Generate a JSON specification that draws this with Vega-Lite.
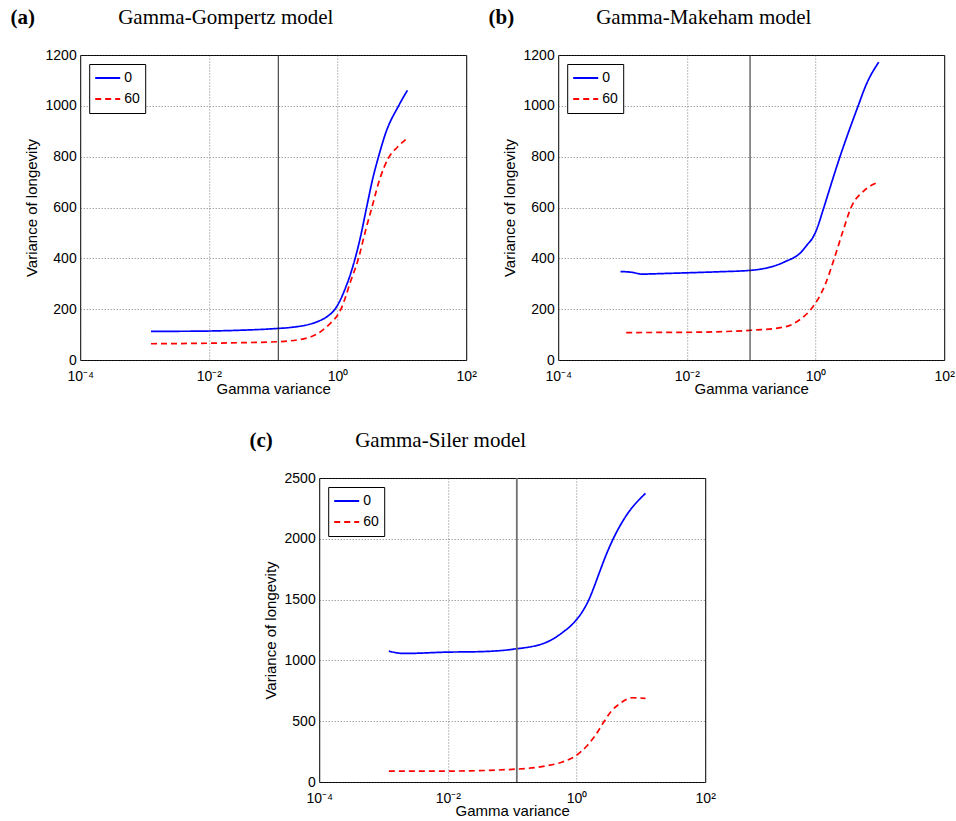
{
  "$schema": "https://vega.github.io/schema/vega-lite/v6.json",
  "padding": {"left": 10, "top": 6, "right": 5, "bottom": 5},
  "background": "white",
  "datasets": {
    "curves": [
      {"p":"a","age":"0","x":0.00126,"y":113},{"p":"a","age":"0","x":0.003,"y":113},{"p":"a","age":"0","x":0.01,"y":114},{"p":"a","age":"0","x":0.03,"y":117},{"p":"a","age":"0","x":0.1,"y":123},{"p":"a","age":"0","x":0.2,"y":129},{"p":"a","age":"0","x":0.36,"y":140},{"p":"a","age":"0","x":0.5,"y":152},{"p":"a","age":"0","x":0.7,"y":172},{"p":"a","age":"0","x":0.9,"y":198},{"p":"a","age":"0","x":1.1,"y":235},{"p":"a","age":"0","x":1.35,"y":288},{"p":"a","age":"0","x":1.6,"y":340},{"p":"a","age":"0","x":1.88,"y":400},{"p":"a","age":"0","x":2.24,"y":477},{"p":"a","age":"0","x":2.83,"y":600},{"p":"a","age":"0","x":3.5,"y":710},{"p":"a","age":"0","x":4.34,"y":800},{"p":"a","age":"0","x":5.64,"y":895},{"p":"a","age":"0","x":8.9,"y":1000},{"p":"a","age":"0","x":12.2,"y":1061},
      {"p":"a","age":"60","x":0.00126,"y":64},{"p":"a","age":"60","x":0.01,"y":66},{"p":"a","age":"60","x":0.03,"y":68},{"p":"a","age":"60","x":0.12,"y":72},{"p":"a","age":"60","x":0.34,"y":87},{"p":"a","age":"60","x":0.5,"y":105},{"p":"a","age":"60","x":0.66,"y":128},{"p":"a","age":"60","x":0.8,"y":148},{"p":"a","age":"60","x":1.0,"y":176},{"p":"a","age":"60","x":1.13,"y":200},{"p":"a","age":"60","x":1.3,"y":240},{"p":"a","age":"60","x":1.55,"y":300},{"p":"a","age":"60","x":2.12,"y":400},{"p":"a","age":"60","x":2.7,"y":505},{"p":"a","age":"60","x":3.42,"y":600},{"p":"a","age":"60","x":4.55,"y":713},{"p":"a","age":"60","x":6.2,"y":795},{"p":"a","age":"60","x":8.57,"y":838},{"p":"a","age":"60","x":12.2,"y":873},
      {"p":"b","age":"0","x":0.00093,"y":348},{"p":"b","age":"0","x":0.0014,"y":345},{"p":"b","age":"0","x":0.002,"y":338},{"p":"b","age":"0","x":0.004,"y":340},{"p":"b","age":"0","x":0.01,"y":343},{"p":"b","age":"0","x":0.03,"y":347},{"p":"b","age":"0","x":0.1,"y":353},{"p":"b","age":"0","x":0.33,"y":386},{"p":"b","age":"0","x":0.6,"y":425},{"p":"b","age":"0","x":0.75,"y":455},{"p":"b","age":"0","x":0.9,"y":480},{"p":"b","age":"0","x":1.0,"y":503},{"p":"b","age":"0","x":1.1,"y":530},{"p":"b","age":"0","x":1.29,"y":585},{"p":"b","age":"0","x":2.4,"y":800},{"p":"b","age":"0","x":4.6,"y":1000},{"p":"b","age":"0","x":6.1,"y":1082},{"p":"b","age":"0","x":9.6,"y":1172},
      {"p":"b","age":"60","x":0.00114,"y":108},{"p":"b","age":"60","x":0.01,"y":109},{"p":"b","age":"60","x":0.1,"y":117},{"p":"b","age":"60","x":0.33,"y":130},{"p":"b","age":"60","x":0.6,"y":163},{"p":"b","age":"60","x":0.85,"y":200},{"p":"b","age":"60","x":1.41,"y":296},{"p":"b","age":"60","x":1.96,"y":400},{"p":"b","age":"60","x":2.65,"y":505},{"p":"b","age":"60","x":3.57,"y":600},{"p":"b","age":"60","x":5.75,"y":667},{"p":"b","age":"60","x":9.6,"y":700},
      {"p":"c","age":"0","x":0.00121,"y":1076},{"p":"c","age":"0","x":0.00207,"y":1057},{"p":"c","age":"0","x":0.0098,"y":1068},{"p":"c","age":"0","x":0.032,"y":1072},{"p":"c","age":"0","x":0.1,"y":1091},{"p":"c","age":"0","x":0.33,"y":1146},{"p":"c","age":"0","x":0.6,"y":1228},{"p":"c","age":"0","x":0.96,"y":1324},{"p":"c","age":"0","x":1.26,"y":1409},{"p":"c","age":"0","x":1.585,"y":1509},{"p":"c","age":"0","x":1.9,"y":1613},{"p":"c","age":"0","x":2.29,"y":1729},{"p":"c","age":"0","x":2.88,"y":1867},{"p":"c","age":"0","x":3.72,"y":2000},{"p":"c","age":"0","x":5.75,"y":2180},{"p":"c","age":"0","x":11.8,"y":2374},
      {"p":"c","age":"60","x":0.00121,"y":90},{"p":"c","age":"60","x":0.01,"y":90},{"p":"c","age":"60","x":0.1,"y":104},{"p":"c","age":"60","x":0.33,"y":132},{"p":"c","age":"60","x":0.6,"y":164},{"p":"c","age":"60","x":0.96,"y":214},{"p":"c","age":"60","x":1.46,"y":298},{"p":"c","age":"60","x":2.0,"y":390},{"p":"c","age":"60","x":2.7,"y":500},{"p":"c","age":"60","x":3.5,"y":585},{"p":"c","age":"60","x":4.56,"y":639},{"p":"c","age":"60","x":7.3,"y":693},{"p":"c","age":"60","x":11.8,"y":688}
    ],
    "refs": [
      {"p":"a","x":0.12},{"p":"b","x":0.096},{"p":"c","x":0.118}
    ]
  },
  "config": {
    "font": "Liberation Sans",
    "view": {"stroke": "black", "strokeWidth": 1},
    "axis": {
      "domain": false, "ticks": false, "grid": true,
      "gridDash": [1, 2], "gridColor": "#444", "gridOpacity": 0.7, "gridWidth": 1,
      "labelFont": "Liberation Sans", "labelFontSize": 14, "labelColor": "black", "labelPadding": 4,
      "titleFont": "Liberation Sans", "titleFontSize": 15, "titleFontWeight": "normal", "titleColor": "black"
    },
    "axisX": {"labelFlush": false, "labelPadding": 9, "titlePadding": -2},
    "axisY": {"titlePadding": 6, "format": "d"},
    "title": {"font": "Liberation Serif", "fontSize": 21, "fontWeight": "normal", "color": "black", "anchor": "start"},
    "legend": {
      "orient": "top-left", "offset": 9, "strokeColor": "black", "fillColor": "white",
      "padding": 5, "symbolType": "stroke", "symbolSize": 625, "symbolStrokeWidth": 2,
      "labelFontSize": 14, "labelFont": "Liberation Sans", "labelColor": "black",
      "clipHeight": 18, "rowPadding": 3, "labelOffset": 3
    }
  },
  "center": true,
  "spacing": 32,
  "resolve": {"scale": {"color": "independent", "strokeDash": "independent", "x": "independent", "y": "independent"}, "legend": {"color": "independent", "strokeDash": "independent"}},
  "vconcat": [
    {
      "spacing": 11,
      "resolve": {"scale": {"color": "independent", "strokeDash": "independent", "x": "independent", "y": "independent"}, "legend": {"color": "independent", "strokeDash": "independent"}},
      "hconcat": [
        {
          "title": {"text": "(a)", "fontWeight": "bold", "frame": "bounds", "dx": -13, "dy": 21, "offset": 0},
          "resolve": {"scale": {"color": "independent", "strokeDash": "independent"}, "legend": {"color": "independent", "strokeDash": "independent"}},
          "vconcat": [
            {
              "title": {"text": "Gamma-Gompertz model", "frame": "group", "dx": 38, "offset": 20},
              "width": 386, "height": 305,
              "layer": [
                {
                  "data": {"name": "curves"},
                  "transform": [{"filter": "datum.p == 'a'"}],
                  "mark": {"type": "line", "strokeWidth": 1.7, "interpolate": "monotone"},
                  "encoding": {
                    "x": {"field": "x", "type": "quantitative", "scale": {"type": "log", "domain": [0.0001, 100]},
                          "axis": {"values": [0.0001, 0.01, 1, 100], "title": "Gamma variance", "labelExpr": "'10' + (datum.value < 0.001 ? '⁻⁴' : datum.value < 0.1 ? '⁻²' : datum.value < 10 ? '⁰' : '²')"}},
                    "y": {"field": "y", "type": "quantitative", "scale": {"domain": [0, 1200]},
                          "axis": {"values": [0, 200, 400, 600, 800, 1000, 1200], "title": "Variance of longevity"}},
                    "color": {"field": "age", "type": "nominal", "scale": {"domain": ["0", "60"], "range": ["#0000ff", "#ff0000"]}, "legend": {"title": null}},
                    "strokeDash": {"field": "age", "type": "nominal", "scale": {"domain": ["0", "60"], "range": [[1, 0], [6, 4]]}, "legend": {"title": null}}
                  }
                },
                {
                  "data": {"name": "refs"},
                  "transform": [{"filter": "datum.p == 'a'"}],
                  "mark": {"type": "rule", "color": "#222", "strokeWidth": 1},
                  "encoding": {"x": {"field": "x", "type": "quantitative"}}
                }
              ]
            }
          ]
        },
        {
          "title": {"text": "(b)", "fontWeight": "bold", "frame": "bounds", "dx": -13, "dy": 21, "offset": 0},
          "resolve": {"scale": {"color": "independent", "strokeDash": "independent"}, "legend": {"color": "independent", "strokeDash": "independent"}},
          "vconcat": [
            {
              "title": {"text": "Gamma-Makeham model", "frame": "group", "dx": 38, "offset": 20},
              "width": 386, "height": 305,
              "layer": [
                {
                  "data": {"name": "curves"},
                  "transform": [{"filter": "datum.p == 'b'"}],
                  "mark": {"type": "line", "strokeWidth": 1.7, "interpolate": "monotone"},
                  "encoding": {
                    "x": {"field": "x", "type": "quantitative", "scale": {"type": "log", "domain": [0.0001, 100]},
                          "axis": {"values": [0.0001, 0.01, 1, 100], "title": "Gamma variance", "labelExpr": "'10' + (datum.value < 0.001 ? '⁻⁴' : datum.value < 0.1 ? '⁻²' : datum.value < 10 ? '⁰' : '²')"}},
                    "y": {"field": "y", "type": "quantitative", "scale": {"domain": [0, 1200]},
                          "axis": {"values": [0, 200, 400, 600, 800, 1000, 1200], "title": "Variance of longevity"}},
                    "color": {"field": "age", "type": "nominal", "scale": {"domain": ["0", "60"], "range": ["#0000ff", "#ff0000"]}, "legend": {"title": null}},
                    "strokeDash": {"field": "age", "type": "nominal", "scale": {"domain": ["0", "60"], "range": [[1, 0], [6, 4]]}, "legend": {"title": null}}
                  }
                },
                {
                  "data": {"name": "refs"},
                  "transform": [{"filter": "datum.p == 'b'"}],
                  "mark": {"type": "rule", "color": "#222", "strokeWidth": 1},
                  "encoding": {"x": {"field": "x", "type": "quantitative"}}
                }
              ]
            }
          ]
        }
      ]
    },
    {
      "title": {"text": "(c)", "fontWeight": "bold", "frame": "bounds", "dx": -13, "dy": 21, "offset": 0},
      "resolve": {"scale": {"color": "independent", "strokeDash": "independent"}, "legend": {"color": "independent", "strokeDash": "independent"}},
      "vconcat": [
        {
          "title": {"text": "Gamma-Siler model", "frame": "group", "dx": 36, "offset": 20},
          "width": 386, "height": 304,
          "layer": [
            {
              "data": {"name": "curves"},
              "transform": [{"filter": "datum.p == 'c'"}],
              "mark": {"type": "line", "strokeWidth": 1.7, "interpolate": "monotone"},
              "encoding": {
                "x": {"field": "x", "type": "quantitative", "scale": {"type": "log", "domain": [0.0001, 100]},
                      "axis": {"values": [0.0001, 0.01, 1, 100], "title": "Gamma variance", "labelExpr": "'10' + (datum.value < 0.001 ? '⁻⁴' : datum.value < 0.1 ? '⁻²' : datum.value < 10 ? '⁰' : '²')"}},
                "y": {"field": "y", "type": "quantitative", "scale": {"domain": [0, 2500]},
                      "axis": {"values": [0, 500, 1000, 1500, 2000, 2500], "title": "Variance of longevity"}},
                "color": {"field": "age", "type": "nominal", "scale": {"domain": ["0", "60"], "range": ["#0000ff", "#ff0000"]}, "legend": {"title": null}},
                "strokeDash": {"field": "age", "type": "nominal", "scale": {"domain": ["0", "60"], "range": [[1, 0], [6, 4]]}, "legend": {"title": null}}
              }
            },
            {
              "data": {"name": "refs"},
              "transform": [{"filter": "datum.p == 'c'"}],
              "mark": {"type": "rule", "color": "#707070", "strokeWidth": 1.8},
              "encoding": {"x": {"field": "x", "type": "quantitative"}}
            }
          ]
        }
      ]
    }
  ]
}
